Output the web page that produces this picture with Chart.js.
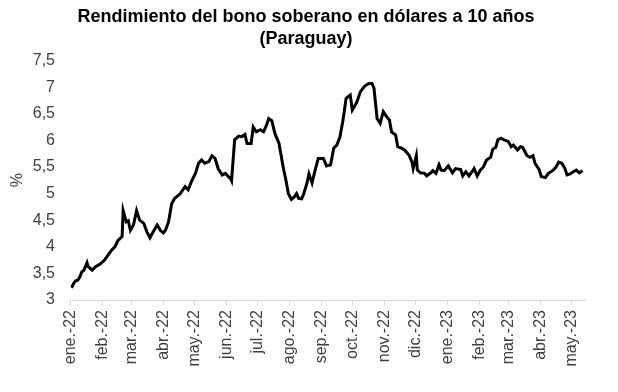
<!DOCTYPE html>
<html>
<head>
<meta charset="utf-8">
<script src="https://cdn.jsdelivr.net/npm/chart.js@4"></script>
<style>
  html, body { margin: 0; padding: 0; background: #fff; }
  #wrap { width: 618px; height: 392px; }
</style>
</head>
<body>
<div id="wrap"><canvas id="grafico" width="618" height="392"></canvas></div>
<script>
// días desde el 1 de enero de 2022
const dias = [
  1, 3, 5, 7, 9, 11, 13, 16, 17, 21, 24, 29, 33, 37, 40, 43, 46, 50, 51, 54,
  56, 58, 61, 64, 67, 71, 74, 77, 80, 84, 87, 90, 92, 95, 98, 101, 106, 111, 114, 117,
  121, 124, 127, 130, 134, 137, 140, 143, 147, 150, 155, 156, 159, 163, 166, 169, 171, 175, 177, 180,
  184, 187, 190, 192, 195, 198, 202, 206, 209, 211, 214, 217, 219, 221, 224, 226, 229, 231, 234, 237,
  240, 245, 248, 252, 255, 258, 261, 264, 267, 271, 273, 277, 281, 285, 289, 292, 294, 297, 300, 303,
  306, 309, 311, 315, 317, 321, 324, 328, 331, 332, 335, 336, 339, 343, 345, 349, 351, 354, 357, 359,
  362, 366, 370, 373, 378, 380, 383, 386, 389, 391, 394, 397, 400, 403, 407, 409, 412, 414, 417, 420,
  424, 427, 429, 433, 436, 438, 442, 445, 448, 450, 454, 456, 460, 463, 467, 470, 473, 476, 479, 481,
  484, 487, 490, 493, 496
];

// rendimiento (%)
const rendimiento = [
  3.23, 3.31, 3.36, 3.37, 3.43, 3.53, 3.56, 3.70, 3.63, 3.56, 3.62, 3.68, 3.75, 3.86, 3.94, 4.00, 4.12, 4.19, 4.68, 4.47,
  4.49, 4.31, 4.41, 4.68, 4.50, 4.44, 4.28, 4.17, 4.28, 4.41, 4.31, 4.26, 4.31, 4.47, 4.81, 4.91, 4.99, 5.13, 5.07, 5.22,
  5.38, 5.57, 5.63, 5.57, 5.60, 5.71, 5.66, 5.47, 5.35, 5.38, 5.28, 5.24, 6.01, 6.08, 6.07, 6.11, 5.94, 5.94, 6.25, 6.16,
  6.20, 6.16, 6.29, 6.41, 6.37, 6.13, 5.94, 5.50, 5.22, 5.00, 4.89, 4.94, 5.00, 4.91, 4.90, 5.00, 5.19, 5.37, 5.20, 5.44,
  5.66, 5.66, 5.52, 5.54, 5.85, 5.91, 6.06, 6.38, 6.79, 6.85, 6.57, 6.70, 6.92, 7.02, 7.07, 7.07, 6.98, 6.41, 6.32, 6.54,
  6.45, 6.38, 6.16, 6.10, 5.88, 5.85, 5.81, 5.72, 5.58, 5.47, 5.71, 5.44, 5.39, 5.38, 5.33, 5.39, 5.43, 5.38, 5.54, 5.44,
  5.43, 5.52, 5.39, 5.47, 5.45, 5.33, 5.41, 5.33, 5.41, 5.47, 5.33, 5.44, 5.50, 5.63, 5.68, 5.83, 5.87, 6.01, 6.04, 6.01,
  5.98, 5.88, 5.91, 5.82, 5.88, 5.87, 5.72, 5.68, 5.71, 5.57, 5.45, 5.32, 5.30, 5.38, 5.43, 5.49, 5.59, 5.57, 5.47, 5.35,
  5.37, 5.41, 5.44, 5.39, 5.43
];

// ticks mensuales del eje x
const diasMes = [0, 31, 59, 90, 120, 151, 181, 212, 243, 273, 304, 334, 365, 396, 424, 455, 485];
const etiquetasMes = [
  "ene.-22", "feb.-22", "mar.-22", "abr.-22", "may.-22", "jun.-22", "jul.-22", "ago.-22",
  "sep.-22", "oct.-22", "nov.-22", "dic.-22", "ene.-23", "feb.-23", "mar.-23", "abr.-23", "may.-23"
];

const fuente = "'Liberation Sans', Arial, sans-serif";
const grisTexto = "#404040";
const grisEje = "#d9d9d9";

const ctx = document.getElementById("grafico").getContext("2d");

new Chart(ctx, {
  type: "line",
  data: {
    datasets: [{
      label: "Rendimiento",
      data: dias.map((d, i) => ({ x: d, y: rendimiento[i] })),
      borderColor: "#000000",
      borderWidth: 3,
      pointRadius: 0,
      tension: 0,
      fill: false
    }]
  },
  options: {
    responsive: false,
    animation: false,
    layout: { padding: { left: 26.4, right: 32.4, top: 0, bottom: 0 } },
    plugins: {
      legend: { display: false },
      tooltip: { enabled: false },
      title: {
        display: true,
        text: ["Rendimiento del bono soberano en dólares a 10 años", "(Paraguay)"],
        color: "#000000",
        font: { family: fuente, size: 18, weight: "bold", lineHeight: 1.2 },
        padding: { top: 6.5, bottom: 10.8 }
      }
    },
    scales: {
      x: {
        type: "linear",
        min: 0,
        max: 499,
        afterBuildTicks: (scale) => {
          scale.ticks = diasMes.map(v => ({ value: v }));
        },
        afterFit: (scale) => { scale.height = 92; },
        ticks: {
          autoSkip: false,
          maxRotation: 90,
          minRotation: 90,
          padding: 5,
          color: grisTexto,
          font: { family: fuente, size: 16 },
          callback: (v) => etiquetasMes[diasMes.indexOf(v)]
        },
        grid: {
          drawOnChartArea: false,
          drawTicks: true,
          tickLength: 5,
          color: grisEje
        },
        border: { display: true, color: grisEje, width: 1 }
      },
      y: {
        min: 3,
        max: 7.5,
        afterFit: (scale) => { scale.width = 44.1; },
        ticks: {
          stepSize: 0.5,
          padding: 15.5,
          color: grisTexto,
          font: { family: fuente, size: 16 },
          callback: (v) => String(v).replace(".", ",")
        },
        grid: { display: false, drawTicks: false },
        border: { display: false },
        title: {
          display: true,
          text: "%",
          color: grisTexto,
          font: { family: fuente, size: 16 },
          padding: { top: -18, bottom: 0 }
        }
      }
    }
  }
});
</script>
</body>
</html>
